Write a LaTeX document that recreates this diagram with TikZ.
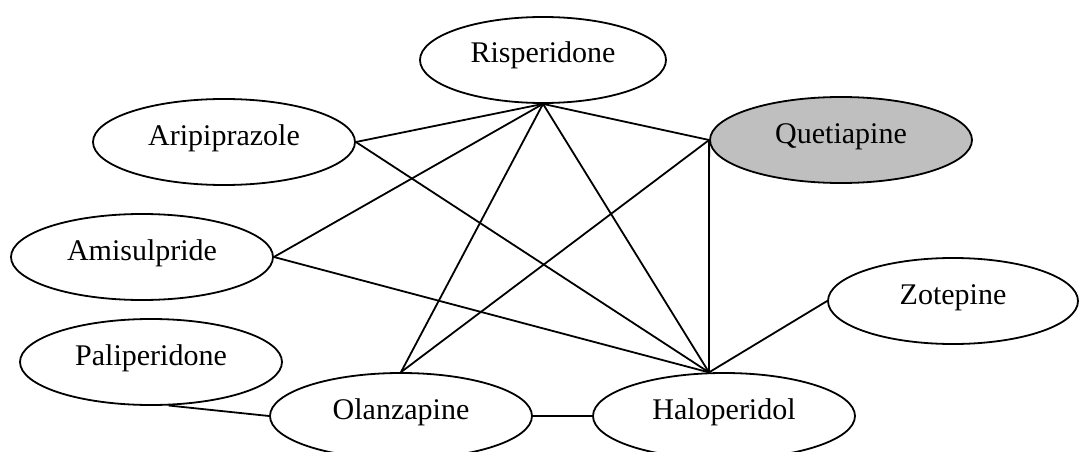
\documentclass[tikz,border=0pt]{standalone}
\usepackage{fontspec}
\setmainfont{Liberation Serif}
\usetikzlibrary{shapes.geometric}
\begin{document}
\begin{tikzpicture}[x=1pt,y=-1pt,
  drug/.style={ellipse,draw=black,line width=1.8pt,fill=white,inner sep=0pt,
    minimum width=262pt,minimum height=86pt,text height=21pt,text depth=15pt,
    font=\fontsize{30}{34}\selectfont},
  link/.style={line width=1.8pt,black}]
\useasboundingbox (0,0) rectangle (1079,452);
\node[drug,minimum width=246pt] (ris) at (543,60) {Risperidone};
\node[drug] (ari) at (224,142) {Aripiprazole};
\node[drug,fill=black!25] (que) at (841,140) {Quetiapine};
\node[drug] (ami) at (142,257) {Amisulpride};
\node[drug,minimum width=250pt] (zot) at (953,301) {Zotepine};
\node[drug] (pal) at (151,362) {Paliperidone};
\node[drug] (ola) at (401,416) {Olanzapine};
\node[drug] (hal) at (724,416) {Haloperidol};
\coordinate (hub) at (hal.109);
\draw[link] (ari.east) -- (ris.south);
\draw[link] (ari.east) -- (hub);
\draw[link] (ris.south) -- (que.west);
\draw[link] (ris.south) -- (ami.east);
\draw[link] (ris.south) -- (ola.north);
\draw[link] (ris.south) -- (hub);
\draw[link] (que.west) -- (ola.north);
\draw[link] (que.west) -- (hub);
\draw[link] (ami.east) -- (hub);
\draw[link] (zot.west) -- (hub);
\draw[link] (pal.-68) -- (ola.west);
\draw[link] (ola.east) -- (hal.west);
\end{tikzpicture}
\end{document}
